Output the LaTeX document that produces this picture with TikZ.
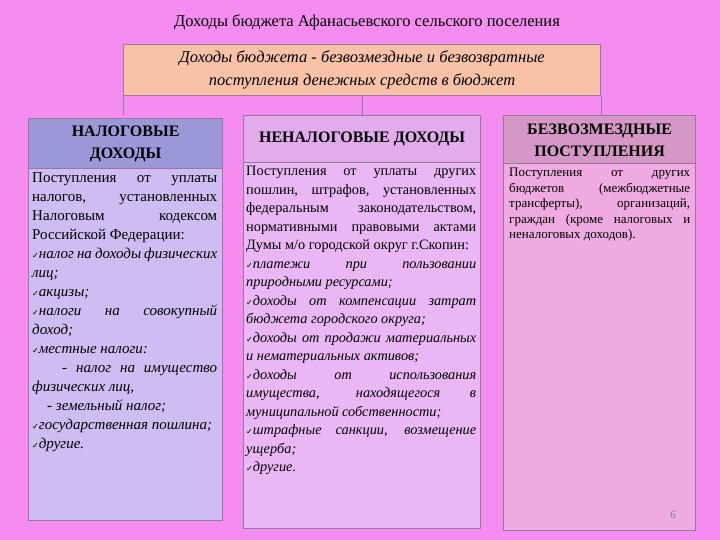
\documentclass[tikz,border=0pt]{standalone}
\usepackage{fontspec}
\setmainfont{Liberation Serif}
\newfontfamily\symf{DejaVu Sans}
\newcommand{\ck}{{\symf\footnotesize ✓}}
\definecolor{bg}{HTML}{F58CF0}
\definecolor{peach}{HTML}{F9C2A8}
\definecolor{hA}{HTML}{9B98D8}
\definecolor{bA}{HTML}{CDBDF2}
\definecolor{hB}{HTML}{E2ACEC}
\definecolor{bB}{HTML}{E9B8F4}
\definecolor{hC}{HTML}{D497C6}
\definecolor{bC}{HTML}{F0AAE2}
\definecolor{edge}{HTML}{9A7A9A}
\tikzset{box/.style={draw=edge,line width=1.2pt,anchor=north west,inner sep=3pt},
hdr/.style={box,font=\bfseries\fontsize{16}{22}\selectfont,align=center},
txt/.style={anchor=north west,align=justify,inner sep=0pt},
ln/.style={draw=edge,line width=1pt}}
\begin{document}
\begin{tikzpicture}[x=1pt,y=-1pt]
\fill[bg] (0,0) rectangle (720,540);
\useasboundingbox (0,0) rectangle (720,540);
\node[font=\fontsize{16.5}{18}\selectfont] (title) at (367,22) {Доходы бюджета Афанасьевского сельского поселения};
\node[box,fill=peach,minimum width=477pt,minimum height=51pt,align=center,font=\itshape\fontsize{16.5}{23}\selectfont] (top) at (123,44) {Доходы бюджета - безвозмездные и безвозвратные\\поступления денежных средств в бюджет};
% left
\node[hdr,fill=hA,minimum width=194pt,minimum height=50pt] (ha) at (28,118) {НАЛОГОВЫЕ\\ДОХОДЫ};
\node[box,fill=bA,minimum width=194pt,minimum height=352pt] (ba) at (28,168) {};
\node[txt,text width=185pt,font=\fontsize{15}{19}\selectfont] (ta) at (32,172) {Поступления от уплаты налогов, установленных Налоговым кодексом Российской Федерации:\\
{\itshape \ck налог на доходы физических лиц;\\
\ck акцизы;\\
\ck налоги на совокупный доход;\\
\ck местные налоги:\\
\hspace*{2em}- налог на имущество физических лиц,\\
\hspace*{1em}- земельный налог;\\
\mbox{\ck государственная пошлина;}\\
\ck другие.}};
% middle
\node[hdr,fill=hB,minimum width=237pt,minimum height=47pt] (hb) at (243,115) {НЕНАЛОГОВЫЕ ДОХОДЫ};
\node[box,fill=bB,minimum width=237pt,minimum height=366pt] (bb) at (243,162) {};
\node[txt,text width=230pt,font=\fontsize{14.3}{18.5}\selectfont] (tb) at (246,166) {Поступления от уплаты других пошлин, штрафов, установленных федеральным законодательством, нормативными правовыми актами Думы м/о городской округ г.Скопин:\\
{\itshape \ck платежи при пользовании природными ресурсами;\\
\ck доходы от компенсации затрат бюджета городского округа;\\
\ck доходы от продажи материальных и нематериальных активов;\\
\ck доходы от использования имущества, находящегося в муниципальной собственности;\\
\ck штрафные санкции, возмещение ущерба;\\
\ck другие.}};
% right
\node[hdr,fill=hC,minimum width=192pt,minimum height=50pt] (hc) at (503,115) {БЕЗВОЗМЕЗДНЫЕ\\ПОСТУПЛЕНИЯ};
\node[box,fill=bC,minimum width=192pt,minimum height=367pt] (bc) at (503,163) {};
\node[txt,text width=181pt,font=\fontsize{13}{15.5}\selectfont] (tc) at (509,168) {Поступления от других бюджетов (межбюджетные трансферты), организаций, граждан (кроме налоговых и неналоговых доходов).};
\draw[ln] (top.south west) -- (top.south west |- hb.north);
\draw[ln] (top.south -| hb.north) -- (hb.north);
\draw[ln] (top.south east) -- (top.south east |- hc.north);
\node[font=\fontsize{11}{12}\selectfont,text=gray] (pg) at (673,515) {6};
\end{tikzpicture}
\end{document}
